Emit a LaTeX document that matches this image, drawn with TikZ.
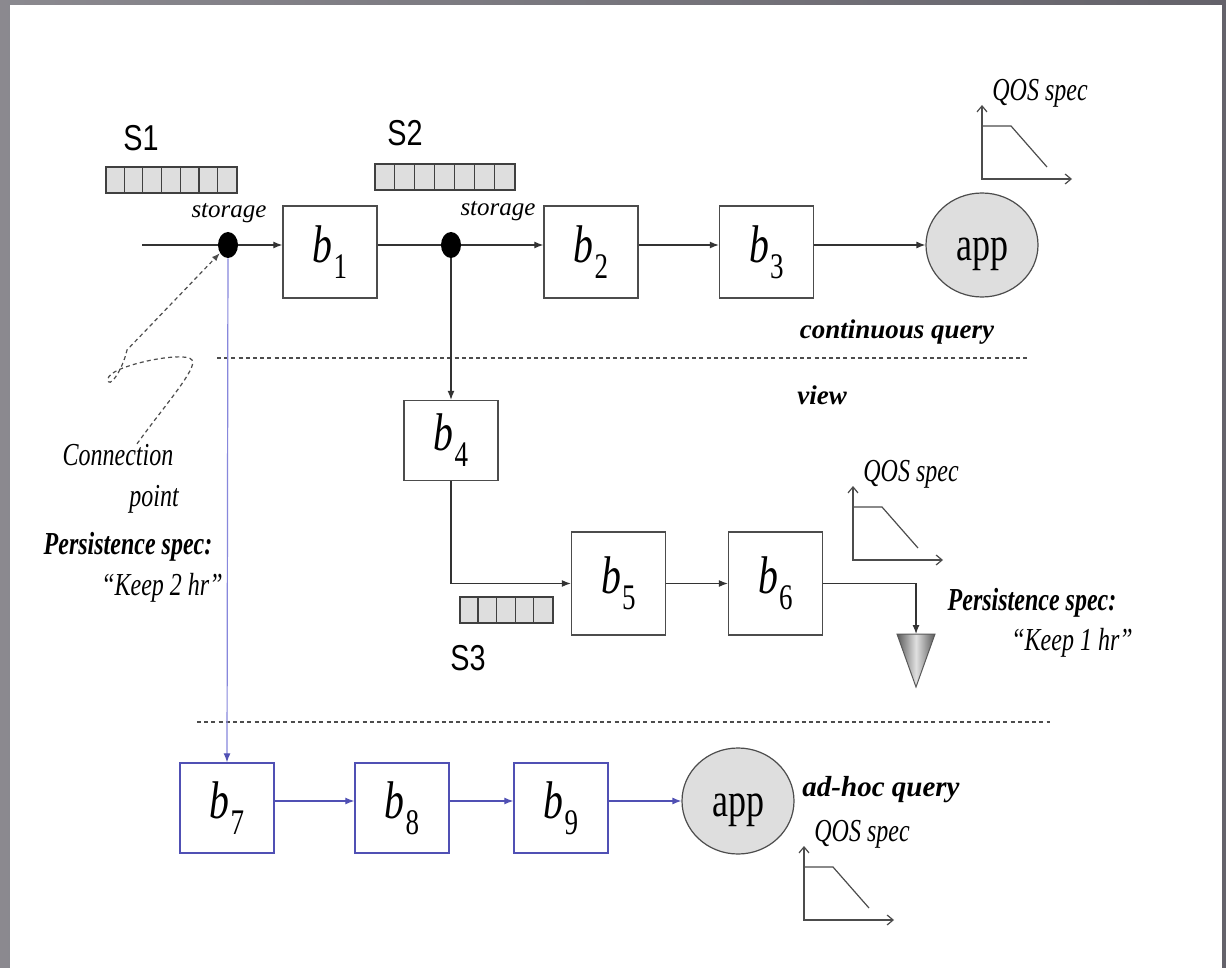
\documentclass[tikz,border=0pt]{standalone}
\usepackage{fontspec}
\setmainfont{Liberation Serif}
\newfontfamily\condserif[FakeStretch=0.75]{Liberation Serif}
\newfontfamily\condsans[FakeStretch=0.8]{Liberation Sans}
\usetikzlibrary{arrows.meta,shapes.geometric}

\definecolor{framegray}{RGB}{100,98,106}
\definecolor{adhocblue}{RGB}{80,80,180}
\definecolor{linkblue}{RGB}{135,135,220}
\definecolor{queuefill}{RGB}{222,222,222}
\newcommand{\bsub}[1]{\textit{b}\kern0.02em\raisebox{-0.3em}{\fontsize{18}{18}\selectfont #1}}

\begin{document}
\begin{tikzpicture}[x=0.5pt, y=-0.5pt,
  opbox/.style={draw=black!70, line width=0.7pt, fill=white, inner sep=0pt,
               minimum width=47pt, minimum height=46pt,
               font=\condserif\fontsize{26.5}{28}\selectfont},
  adhoc/.style={opbox, draw=adhocblue},
  appnode/.style={ellipse, draw=black!70, fill=queuefill, line width=0.6pt, inner sep=0pt,
               minimum width=56pt, minimum height=52pt, text depth=0pt,
               font=\condserif\fontsize{24}{26}\selectfont},
  tap/.style={ellipse, fill=black, inner sep=0pt, minimum width=10pt, minimum height=13pt},
  queue/.style={draw=black!75, fill=queuefill, line width=0.6pt, inner sep=0pt, minimum height=13pt},
  line/.style={line width=0.6pt, black!80},
  flow/.style={line, -{Latex[length=4.5pt,width=3.5pt]}},
  blueflow/.style={line width=0.6pt, adhocblue, -{Latex[length=4.5pt,width=3.5pt]}},
  sep/.style={dash pattern=on 2pt off 1.6pt, line width=0.6pt, black!70},
  note/.style={inner sep=0pt, font=\itshape\fontsize{12.5}{14}\selectfont},
  lbl/.style={inner sep=0pt, font=\condserif\itshape\fontsize{16}{18}\selectfont},
  lblb/.style={inner sep=0pt, font=\condserif\bfseries\itshape\fontsize{16}{18}\selectfont},
  tag/.style={inner sep=0pt, font=\bfseries\itshape\fontsize{13.5}{15}\selectfont},
  qname/.style={inner sep=0pt, font=\condsans\fontsize{18}{20}\selectfont},
  qos/.pic={
    \draw[black!70, line width=0.6pt, {Straight Barb[length=3pt,width=5pt]}-{Straight Barb[length=3pt,width=5pt]}]
      (0,-74) -- (0,0) -- (90,0);
    \draw[black!70, line width=0.6pt] (0,-53) -- (29,-53) -- (65,-12);
    \node[lbl, anchor=west] (-lbl) at (10,-86) {QOS spec};
  },
]
  \useasboundingbox (0,0) rectangle (1226,968);
  % slide frame
  \fill[left color=framegray!75!white, right color=framegray] (0,0) rectangle (1226,968);
  \fill[white] (10,5) rectangle (1222,968);

  % continuous query
  \node[qname] (s1) at (141,138) {S1};
  \node[queue, minimum width=65.5pt] (s1q) at (171.5,180) {};
  \foreach \i in {1,...,6}
    \draw[black!75, line width=0.6pt] ([xshift=\i*65.5pt/7]s1q.north west) -- ([xshift=\i*65.5pt/7]s1q.south west);
  \node[qname] (s2) at (405,133) {S2};
  \node[queue, minimum width=70pt] (s2q) at (445,177) {};
  \foreach \i in {1,...,6}
    \draw[black!75, line width=0.6pt] ([xshift=\i*70pt/7]s2q.north west) -- ([xshift=\i*70pt/7]s2q.south west);

  \node[tap] (tap1) at (228,245) {};
  \node[tap] (tap2) at (451,245) {};
  \node[note] (st1) at (229,213) {storage};
  \node[note] (st2) at (498,211) {storage};
  \node[opbox] (b1) at (330,252) {\bsub{1}};
  \node[opbox] (b2) at (591,252) {\bsub{2}};
  \node[opbox] (b3) at (766.5,252) {\bsub{3}};
  \node[appnode] (app1) at (982,245) {\raisebox{-4pt}{app}};
  \coordinate (src) at (142,245);
  \draw[line] (src) -- (tap1);
  \draw[flow] (tap1) -- (tap1 -| b1.west);
  \draw[line] (b1.east |- tap2) -- (tap2);
  \draw[flow] (tap2) -- (tap2 -| b2.west);
  \draw[flow] (b2.east |- tap2) -- (tap2 -| b3.west);
  \draw[flow] (b3.east |- app1) -- (app1);
  \pic (qa) at (982,179) {qos};
  \node[tag] (cq) at (897,332) {continuous query};

  \coordinate (sepa) at (217,358);
  \coordinate (sepb) at (1028,358);
  \draw[sep] (sepa) -- (sepb);

  % view
  \node[tag] (view) at (822,395) {view};
  \node[opbox, minimum height=40pt] (b4) at (451,440.5) {\bsub{4}};
  \node[opbox, minimum height=51.5pt] (b5) at (618.5,583.5) {\bsub{5}};
  \node[opbox, minimum height=51.5pt] (b6) at (775.5,583.5) {\bsub{6}};
  \node[queue, minimum width=46.5pt] (s3q) at (506.5,610) {};
  \foreach \i in {1,...,4}
    \draw[black!75, line width=0.6pt] ([xshift=\i*46.5pt/5]s3q.north west) -- ([xshift=\i*46.5pt/5]s3q.south west);
  \node[qname] (s3) at (468,658) {S3};
  \draw[flow] (tap2) -- (b4.north);
  \draw[flow] (b4.south) |- (b5.west);
  \draw[flow] (b5) -- (b6);
  \coordinate (sink) at (916,634);
  \shadedraw[draw=black!65, line width=0.5pt, left color=black!65, right color=black!65, middle color=black!12]
    ([xshift=-9.5pt]sink) -- ([xshift=9.5pt]sink) -- ([yshift=-26.5pt]sink) -- cycle;
  \draw[flow] (b6.east) -| (sink);
  \pic (qb) at (853,560) {qos};
  \node[lblb] (ps2) at (1032,603) {Persistence spec:};
  \node[lbl] (keep1) at (1072,643) {“Keep 1 hr”};

  % connection point
  \node[lbl] (cp1) at (118,455) {Connection};
  \node[lbl] (cp2) at (154,499) {point};
  \node[lblb] (ps1) at (128,547) {Persistence spec:};
  \node[lbl] (keep2) at (162,588) {“Keep 2 hr”};
  \draw[sep, -{Latex[length=4pt,width=3pt]}] ([xshift=9.5pt]cp1.north)
    .. controls (165,405) and (198,368) .. (192,360)
    .. controls (186,350) and (108,366) .. (108,379)
    .. controls (108,390) and (122,372) .. (127,350)
    -- (tap1.225);

  \coordinate (sepc) at (197,722);
  \coordinate (sepd) at (1050,722);
  \draw[sep] (sepc) -- (sepd);

  % ad-hoc query
  \node[adhoc, minimum height=45pt] (b7) at (227,808) {\bsub{7}};
  \node[adhoc, minimum height=45pt] (b8) at (402,808) {\bsub{8}};
  \node[adhoc, minimum height=45pt] (b9) at (561,808) {\bsub{9}};
  \node[appnode, minimum height=53pt] (app2) at (738,801) {\raisebox{-4pt}{app}};
  \draw[line width=0.6pt, linkblue, -{Latex[length=4.5pt,width=3.5pt,color=adhocblue]}] (tap1) -- (b7.north);
  \draw[blueflow] (b7.east |- app2) -- (b8.west |- app2);
  \draw[blueflow] (b8.east |- app2) -- (b9.west |- app2);
  \draw[blueflow] (b9.east |- app2) -- (app2);
  \node[tag, font=\bfseries\itshape\fontsize{14.5}{16}\selectfont] (adq) at (881,790) {ad-hoc query};
  \pic (qc) at (804,920) {qos};
\end{tikzpicture}
\end{document}
